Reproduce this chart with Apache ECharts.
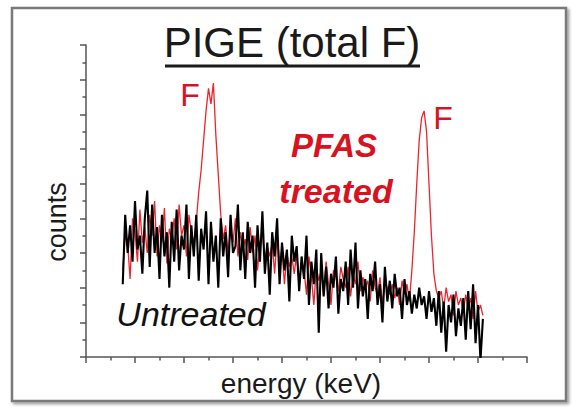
<!DOCTYPE html>
<html>
<head>
<meta charset="utf-8">
<script src="https://cdn.jsdelivr.net/npm/echarts@6/dist/echarts.min.js"></script>
<style>
html,body{margin:0;padding:0;background:#fff;}
#chart{width:576px;height:411px;}
</style>
</head>
<body>
<div id="chart"></div>
<script>
// Detector channel grid (energy axis, arbitrary units)
const channelStart = 7.5;
const channelStep = 0.5;

// Untreated spectrum (black), counts per channel
const untreated = [
  42, 82, 60, 76, 55, 90, 62, 70, 48, 80,
  96, 52, 88, 60, 75, 45, 82, 58, 72, 40,
  78, 55, 85, 50, 70, 62, 88, 45, 76, 58,
  82, 44, 74, 62, 84, 42, 78, 55, 70, 40,
  80, 58, 72, 46, 82, 60, 64, 88, 50, 72,
  45, 78, 60, 70, 40, 76, 55, 84, 48, 66,
  36, 72, 58, 80, 42, 66, 50, 62, 32, 70,
  55, 64, 38, 58, 45, 70, 30, 55, 42, 62,
  14, 60, 35, 52, 28, 48, 40, 58, 25, 45,
  38, 55, 30, 62, 40, 66, 28, 50, 35, 45,
  22, 48, 38, 55, 30, 42, 20, 52, 32, 44,
  28, 48, 35, 40, 22, 45, 30, 38, 25, 36,
  28, 40, 30, 35, 22, 38, 26, 34, 18, 38,
  14, 32, 3, 30, 20, 36, 12, 28, 18, 34,
  10, 38, 16, 42, 8, 30, -2, 22
];

// PFAS treated spectrum (red), counts per channel
const pfasTreated = [
  50, 70, 65, 45, 80, 72, 55, 85, 66, 75,
  60, 82, 70, 90, 58, 76, 66, 86, 54, 74,
  68, 80, 62, 88, 70, 76, 58, 82, 72, 66,
  78, 95, 108, 125, 142, 155, 146, 158, 128, 105,
  82, 68, 76, 60, 74, 66, 80, 58, 72, 62,
  68, 56, 75, 60, 70, 50, 66, 72, 56, 64,
  58, 66, 48, 70, 55, 62, 42, 60, 52, 58,
  48, 60, 40, 56, 50, 36, 58, 46, 30, 52,
  44, 50, 36, 55, 42, 30, 50, 46, 38, 52,
  45, 40, 52, 35, 48, 42, 55, 38, 46, 40,
  44, 32, 50, 40, 36, 46, 30, 44, 40, 36,
  42, 34, 40, 30, 44, 36, 42, 32, 50, 72,
  100, 125, 138, 142, 130, 100, 70, 48, 38, 34,
  38, 28, 40, 32, 36, 24, 38, 30, 34, 26,
  36, 28, 34, 22, 38, 26, 30, 24
];

// Axis ranges
const xMin = 0, xMax = 90, xInterval = 10;
const yMin = 0, yMax = 180, yInterval = 20;

// Texts
const titleText = 'PIGE (total F)';
const xName = 'energy (keV)';
const yName = 'counts';
const peakLabel = 'F';
const treatedLabel = ['PFAS', 'treated'];
const untreatedLabel = 'Untreated';

function toPairs(arr) {
  return arr.map((v, i) => [channelStart + i * channelStep, v]);
}

const FONT = '"Liberation Sans", Arial, sans-serif';
const RED_LINE = '#f0232b';
const RED_TEXT = '#d9121f';

const chart = echarts.init(document.getElementById('chart'), null, {renderer: 'svg'});

chart.setOption({
  backgroundColor: '#ffffff',
  animation: false,
  grid: {left: 86, right: 49, top: 45, bottom: 54},
  xAxis: {
    type: 'value', min: xMin, max: xMax, interval: xInterval,
    axisLine: {show: true, lineStyle: {color: '#555', width: 1.5}},
    axisTick: {show: true, length: 6, lineStyle: {color: '#555', width: 1.5}},
    minorTick: {show: true, splitNumber: 2, length: 3.5, lineStyle: {color: '#555', width: 1.5}},
    axisLabel: {show: false},
    splitLine: {show: false}
  },
  yAxis: {
    type: 'value', min: yMin, max: yMax, interval: yInterval,
    axisLine: {show: true, lineStyle: {color: '#555', width: 1.5}},
    axisTick: {show: true, length: 6, lineStyle: {color: '#555', width: 1.5}},
    minorTick: {show: true, splitNumber: 2, length: 3.5, lineStyle: {color: '#555', width: 1.5}},
    axisLabel: {show: false},
    splitLine: {show: false}
  },
  series: [
    {
      name: 'PFAS treated', type: 'line', data: toPairs(pfasTreated),
      showSymbol: false, symbol: 'none', z: 2,
      lineStyle: {color: RED_LINE, width: 1.3}
    },
    {
      name: 'Untreated', type: 'line', data: toPairs(untreated),
      showSymbol: false, symbol: 'none', z: 3,
      lineStyle: {color: '#000', width: 2.1}
    }
  ],
  graphic: [
    {type: 'rect', shape: {x: 12, y: 8, width: 554, height: 393}, z: -1,
     style: {fill: '#fff', stroke: '#7a7a7a', lineWidth: 2.5,
             shadowBlur: 3, shadowOffsetX: 2, shadowOffsetY: 2, shadowColor: 'rgba(0,0,0,0.4)'}},
    {type: 'text', x: 292, y: 42, z: 10,
     style: {text: titleText, font: '42px ' + FONT, fill: '#1a1a1a', textAlign: 'center', textVerticalAlign: 'middle'}},
    {type: 'line', shape: {x1: 165, y1: 66, x2: 420, y2: 66}, z: 10,
     style: {stroke: '#1a1a1a', lineWidth: 3}},
    {type: 'text', x: 190, y: 95, z: 10,
     style: {text: peakLabel, font: '32px ' + FONT, fill: RED_TEXT, textAlign: 'center', textVerticalAlign: 'middle'}},
    {type: 'text', x: 443, y: 118, z: 10,
     style: {text: peakLabel, font: '32px ' + FONT, fill: RED_TEXT, textAlign: 'center', textVerticalAlign: 'middle'}},
    {type: 'text', x: 334, y: 145, z: 10,
     style: {text: treatedLabel[0], font: 'italic bold 33px ' + FONT, fill: RED_TEXT, textAlign: 'center', textVerticalAlign: 'middle'}},
    {type: 'text', x: 336, y: 191, z: 10,
     style: {text: treatedLabel[1], font: 'italic bold 34px ' + FONT, fill: RED_TEXT, textAlign: 'center', textVerticalAlign: 'middle'}},
    {type: 'text', x: 191, y: 314, z: 10,
     style: {text: untreatedLabel, font: 'italic 34px ' + FONT, fill: '#111', textAlign: 'center', textVerticalAlign: 'middle'}},
    {type: 'text', x: 57, y: 222, rotation: Math.PI / 2, z: 10,
     style: {text: yName, font: '27px ' + FONT, fill: '#1a1a1a', textAlign: 'center', textVerticalAlign: 'middle'}},
    {type: 'text', x: 301, y: 383, z: 10,
     style: {text: xName, font: '28px ' + FONT, fill: '#1a1a1a', textAlign: 'center', textVerticalAlign: 'middle'}}
  ]
});
</script>
</body>
</html>
